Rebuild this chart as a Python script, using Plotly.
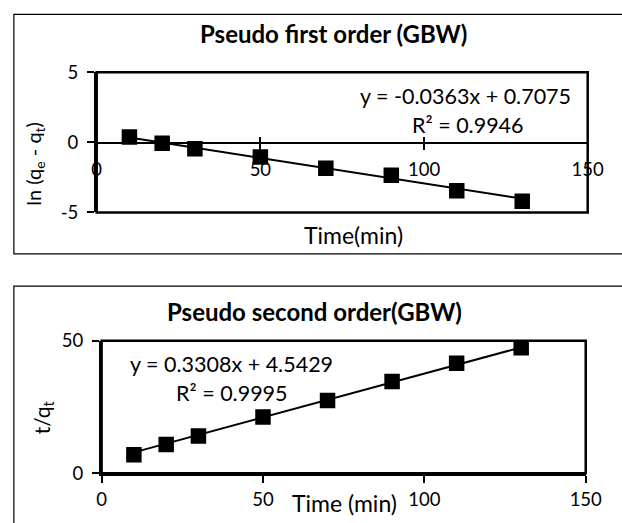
import numpy as np
import plotly.graph_objects as go

# ---- data ----
time_min = [10, 20, 30, 50, 70, 90, 110, 130]
ln_qe_qt = [0.38, -0.07, -0.45, -1.05, -1.85, -2.35, -3.45, -4.20]
t_over_qt = [7.0, 10.8, 14.1, 21.2, 27.5, 34.6, 41.5, 47.4]

pfo_slope, pfo_intercept = -0.0363, 0.7075
pso_slope, pso_intercept = 0.3308, 4.5429
pfo_eq = "y = -0.0363x + 0.7075"
pfo_r2 = "R² = 0.9946"
pso_eq = "y = 0.3308x + 4.5429"
pso_r2 = "R² = 0.9995"

x_ticks = [0, 50, 100, 150]
x_tick_text = ["0", "50", "100", "150"]
y1_ticks = [-5, 0, 5]
y1_tick_text = ["-5", "0", "5"]
y2_ticks = [0, 50]
y2_tick_text = ["0", "50"]

W, H = 622, 523
FONT = "Lato"
# measured mapping between page pixels and the photographed picture
CAL_AX, CAL_BX = 0.98, 2.0
CAL_AY, CAL_BY = 0.97, 8.0


def px(x):
    return ((x - CAL_BX) / CAL_AX) / W


def py(y):
    return 1 - ((y - CAL_BY) / CAL_AY) / H


fig = go.Figure()

xs = np.array([min(time_min), max(time_min)], dtype=float)

# top panel
fig.add_trace(go.Scatter(x=xs, y=pfo_slope * xs + pfo_intercept, mode="lines",
                         line=dict(color="black", width=2), xaxis="x", yaxis="y",
                         showlegend=False, hoverinfo="skip"))
fig.add_trace(go.Scatter(x=time_min, y=ln_qe_qt, mode="markers",
                         marker=dict(symbol="square", size=15.5, color="black"),
                         xaxis="x", yaxis="y", showlegend=False))
# helper trace for the inner half of crossing ticks
fig.add_trace(go.Scatter(x=[], y=[], xaxis="x2", yaxis="y", showlegend=False))

# bottom panel
fig.add_trace(go.Scatter(x=xs, y=pso_slope * xs + pso_intercept, mode="lines",
                         line=dict(color="black", width=2), xaxis="x3", yaxis="y3",
                         showlegend=False, hoverinfo="skip"))
fig.add_trace(go.Scatter(x=time_min, y=t_over_qt, mode="markers",
                         marker=dict(symbol="square", size=15.5, color="black"),
                         xaxis="x3", yaxis="y3", showlegend=False))

tickfont = dict(family=FONT, size=18.5, color="black")

zero_pix = 140.5

fig.update_layout(
    width=W, height=H,
    margin=dict(l=0, r=0, t=0, b=0),
    paper_bgcolor="white", plot_bgcolor="white",
    font=dict(family=FONT, color="black"),
    xaxis=dict(domain=[px(95), px(593)], range=[0, 150], anchor="free",
               position=py(zero_pix), tickvals=x_ticks, ticktext=x_tick_text,
               ticks="outside", ticklen=6, tickwidth=2, tickcolor="black",
               showline=True, linewidth=2, linecolor="black", showgrid=False,
               zeroline=False, tickfont=tickfont, ticklabelstandoff=4),
    xaxis2=dict(domain=[px(95), px(593)], range=[0, 150], anchor="free",
                overlaying="x", position=py(zero_pix), tickvals=x_ticks,
                ticks="inside", ticklen=6, tickwidth=2, tickcolor="black",
                showticklabels=False, showline=False, showgrid=False,
                zeroline=False),
    yaxis=dict(domain=[py(211), py(69)], range=[-5, 5], anchor="x",
               tickvals=y1_ticks, ticktext=y1_tick_text, ticks="outside",
               ticklen=7, tickwidth=2, tickcolor="black", showline=True,
               linewidth=2.5, linecolor="black", showgrid=False, zeroline=False,
               tickfont=tickfont, ticklabelstandoff=5),
    xaxis3=dict(domain=[px(100), px(591)], range=[0, 150], anchor="y3",
                tickvals=x_ticks, ticktext=x_tick_text, ticks="outside",
                ticklen=7, tickwidth=2, tickcolor="black", showline=True,
                linewidth=2.5, linecolor="black", showgrid=False,
                zeroline=False, tickfont=tickfont, ticklabelstandoff=1),
    yaxis3=dict(domain=[py(475), py(341)], range=[0, 50], anchor="x3",
                tickvals=y2_ticks, ticktext=y2_tick_text, ticks="outside",
                ticklen=7, tickwidth=2, tickcolor="black", showline=True,
                linewidth=2.5, linecolor="black", showgrid=False,
                zeroline=False, tickfont=tickfont, ticklabelstandoff=5),
)

shapes = [
    # outer chart borders (they run past the right / bottom edge)
    dict(type="rect", xref="paper", yref="paper", x0=px(11), x1=px(660),
         y0=py(253), y1=py(10.5), line=dict(color="black", width=1.2)),
    dict(type="rect", xref="paper", yref="paper", x0=px(11), x1=px(660),
         y0=py(600), y1=py(285.5), line=dict(color="black", width=1.2)),
    # plot-area frames
    dict(type="rect", xref="x domain", yref="y domain", x0=0, x1=1, y0=0, y1=1,
         line=dict(color="black", width=2.5)),
    dict(type="rect", xref="x3 domain", yref="y3 domain", x0=0, x1=1, y0=0, y1=1,
         line=dict(color="black", width=2.5)),
]
fig.update_layout(shapes=shapes)

ann_font = dict(family=FONT, size=21.5, color="black")
title_font = dict(family=FONT, size=24, color="black")
axt_font = dict(family=FONT, size=23, color="black")
annotations = [
    dict(text="<b>Pseudo first order (GBW)</b>", x=px(335), y=py(30), font=title_font),
    dict(text="<b>Pseudo second order(GBW)</b>", x=px(316), y=py(311), font=title_font),
    dict(text=pfo_eq, x=px(469), y=py(93), font=ann_font),
    dict(text=pfo_r2, x=px(472), y=py(122), font=ann_font),
    dict(text=pso_eq, x=px(232), y=py(364), font=ann_font),
    dict(text=pso_r2, x=px(232), y=py(394), font=ann_font),
    dict(text="Time(min)", x=px(355), y=py(234), font=axt_font),
    dict(text="Time (min)", x=px(346), y=py(505), font=axt_font),
    dict(text="ln (q<sub>e</sub> - q<sub>t</sub>)", x=px(31), y=py(162),
         textangle=-90, font=dict(family=FONT, size=20, color="black")),
    dict(text="t/q<sub>t</sub>", x=px(40), y=py(418), textangle=-90,
         font=dict(family=FONT, size=21, color="black")),
]
for a in annotations:
    a.update(xref="paper", yref="paper", showarrow=False, xanchor="center",
             yanchor="middle")
fig.update_layout(annotations=annotations)

fig.write_html("out.html", config={"displayModeBar": False},
               post_script="document.body.style.margin='0';"
                           "document.body.style.overflow='hidden';")
